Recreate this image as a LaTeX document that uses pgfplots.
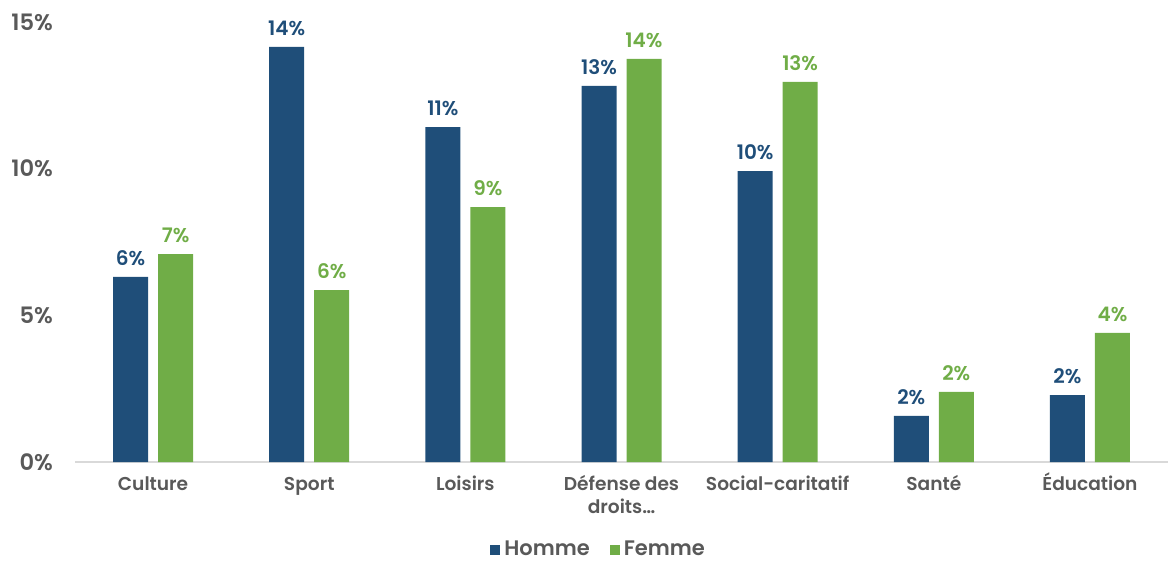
\documentclass[border=0pt]{standalone}
\usepackage{pgfplots}
\pgfplotsset{compat=1.18}
\usepackage{fontspec}
\setmainfont{Poppins}[BoldFont={* SemiBold}]
\usetikzlibrary{calc}
\definecolor{homme}{HTML}{1F4E79}
\definecolor{femme}{HTML}{70AD47}
\definecolor{txt}{HTML}{595959}
\definecolor{axl}{HTML}{D9D9D9}
\begin{document}
\begin{tikzpicture}
\begin{axis}[
  name=ax,
  scale only axis,
  width=546.5pt, height=220pt,
  ymin=0, ymax=15,
  xmin=-0.5, xmax=6.5,
  ybar,
  bar width=17.5pt,
  axis lines*=left,
  y axis line style={draw=none},
  x axis line style={draw=axl, line width=1pt},
  major tick length=0pt,
  ytick={0,5,10,15},
  yticklabel={\pgfmathprintnumber{\tick}\%},
  /pgf/number format/assume math mode=true,
  yticklabel style={font=\fontsize{11.3}{13}\selectfont\bfseries, text=txt, xshift=-7.5pt},
  xtick=data,
  xticklabels={{\vphantom{É}Culture},{\vphantom{É}Sport},{\vphantom{É}Loisirs},{\vphantom{É}Défense des\\droits…},{\vphantom{É}Social-caritatif},{\vphantom{É}Santé},{Éducation}},
  xticklabel style={font=\fontsize{9.3}{11.5}\selectfont\bfseries, text=txt, align=center, yshift=-2pt},
  nodes near coords={\pgfmathprintnumber[fixed,precision=0]{\pgfplotspointmeta}\%},
  nodes near coords style={font=\fontsize{10}{11}\selectfont\bfseries, yshift=2pt},
  legend style={at={(0.48,-0.2)}, anchor=center, draw=none, legend columns=2,
    font=\fontsize{10.5}{12}\selectfont\bfseries, text=txt,
    /tikz/every even column/.append style={column sep=8pt}},
  legend image code/.code={\fill[#1] (0pt,-2.5pt) rectangle (5pt,2.5pt);},
  clip=false,
]
\addplot[draw=none, fill=homme, bar shift=-11.25pt, nodes near coords style={text=homme}] coordinates {
 (0,6.31) (1,14.15) (2,11.42) (3,12.82) (4,9.92) (5,1.57) (6,2.28)};
\addplot[draw=none, fill=femme, bar shift=11.25pt, nodes near coords style={text=femme}] coordinates {
 (0,7.09) (1,5.86) (2,8.69) (3,13.74) (4,12.96) (5,2.39) (6,4.40)};
\legend{Homme,Femme}
\end{axis}
\pgfresetboundingbox
\path ($(ax.south west)+(-37.5pt,-49.5pt)$) rectangle ($(ax.north east)+(0,11pt)$);
\end{tikzpicture}
\end{document}
